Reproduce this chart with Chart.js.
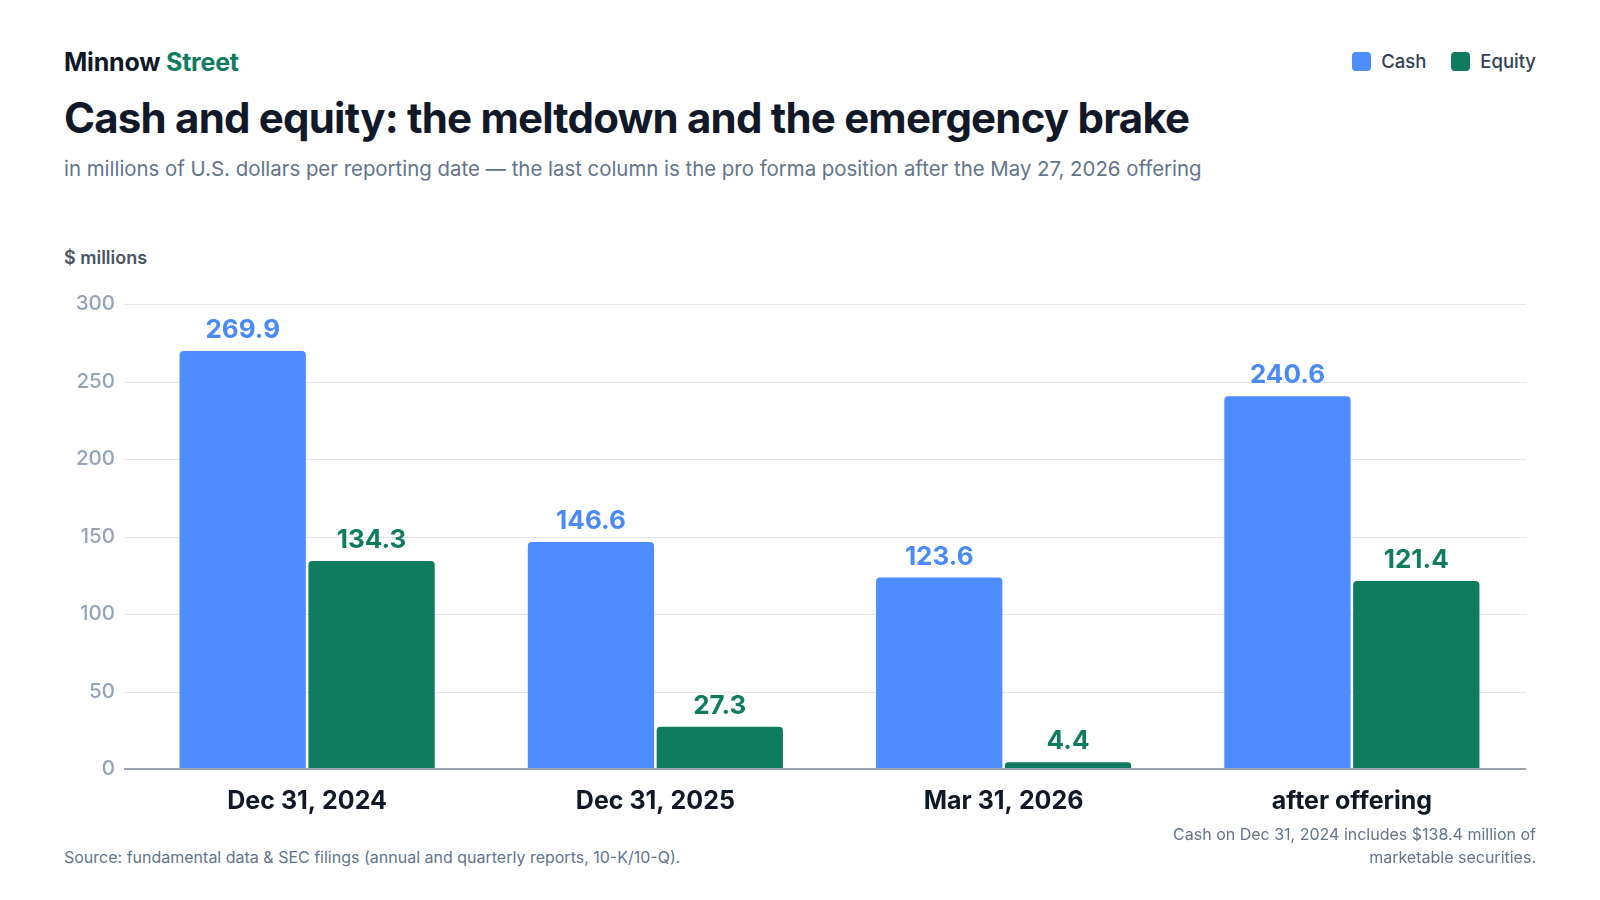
<!DOCTYPE html>
<html>
<head>
<meta charset="utf-8">
<script src="https://cdn.jsdelivr.net/npm/chart.js@4"></script>
<style>
  html, body { margin: 0; padding: 0; background: #fff; }
  body { width: 1600px; height: 900px; position: relative; overflow: hidden; font-family: Inter, "Noto Sans", sans-serif; }
  .brand { position: absolute; left: 64px; top: 47px; font-size: 25px; font-weight: 700; color: #111827; letter-spacing: -0.2px; }
  .brand span { color: #0f7b5f; }
  .title { position: absolute; left: 64px; top: 92px; font-size: 42px; font-weight: 700; color: #111827; letter-spacing: -0.8px; }
  .subtitle { position: absolute; left: 64px; top: 156px; font-size: 20.4px; color: #64748b; }
  .unit { position: absolute; left: 64px; top: 247px; font-size: 18px; font-weight: 600; color: #4b5563; }
  .legend { position: absolute; right: 64px; top: 50px; display: flex; gap: 25px; font-size: 18.5px; font-weight: 500; color: #334155; }
  .legend div { display: flex; align-items: center; gap: 10px; }
  .legend i { display: inline-block; width: 19px; height: 19px; border-radius: 4px; }
  .source { position: absolute; left: 64px; top: 847px; font-size: 16px; color: #64748b; }
  .note { position: absolute; right: 64px; top: 823px; font-size: 16px; line-height: 23px; color: #64748b; text-align: right; }
  #wrap { position: absolute; left: 0; top: 274px; width: 1600px; height: 554px; }
</style>
</head>
<body>
<div class="brand">Minnow <span>Street</span></div>
<div class="legend" id="legend"></div>
<div class="title">Cash and equity: the meltdown and the emergency brake</div>
<div class="subtitle">in millions of U.S. dollars per reporting date — the last column is the pro forma position after the May 27, 2026 offering</div>
<div class="unit">$ millions</div>
<div id="wrap"><canvas id="chart"></canvas></div>
<div class="source">Source: fundamental data &amp; SEC filings (annual and quarterly reports, 10-K/10-Q).</div>
<div class="note">Cash on Dec 31, 2024 includes $138.4 million of<br>marketable securities.</div>
<script>
const categories = ['Dec 31, 2024', 'Dec 31, 2025', 'Mar 31, 2026', 'after offering'];
const cashValues = [269.9, 146.6, 123.6, 240.6];
const equityValues = [134.3, 27.3, 4.4, 121.4];
const yTicks = [0, 50, 100, 150, 200, 250, 300];

const CASH = '#4d8dff';
const EQUITY = '#0f7b5f';
const labelColors = ['#4a8af6', '#0f7b5f'];
const GRID_START = 124;

const legend = document.getElementById('legend');
[['Cash', CASH], ['Equity', EQUITY]].forEach(([name, color]) => {
  const item = document.createElement('div');
  item.innerHTML = '<i style="background:' + color + '"></i>' + name;
  legend.appendChild(item);
});

// grid lines start a bit left of the first category, like the original
const gridAndAxis = {
  id: 'gridAndAxis',
  beforeDatasetsDraw(chart) {
    const ctx = chart.ctx, y = chart.scales.y, right = chart.chartArea.right;
    ctx.save();
    ctx.strokeStyle = '#e5e7eb';
    ctx.lineWidth = 1;
    yTicks.forEach(v => {
      if (v === 0) return;
      const py = Math.round(y.getPixelForValue(v)) + 0.5;
      ctx.beginPath();
      ctx.moveTo(GRID_START, py);
      ctx.lineTo(right, py);
      ctx.stroke();
    });
    ctx.restore();
  },
  afterDatasetsDraw(chart) {
    const ctx = chart.ctx, y = chart.scales.y, right = chart.chartArea.right;
    const py = y.getPixelForValue(0);
    ctx.save();
    ctx.strokeStyle = '#9ca3af';
    ctx.lineWidth = 2;
    ctx.beginPath();
    ctx.moveTo(GRID_START, py);
    ctx.lineTo(right, py);
    ctx.stroke();

    ctx.font = '700 26px Inter, "Noto Sans", sans-serif';
    ctx.textAlign = 'center';
    ctx.textBaseline = 'alphabetic';
    chart.data.datasets.forEach((ds, i) => {
      ctx.fillStyle = labelColors[i];
      chart.getDatasetMeta(i).data.forEach((bar, j) => {
        ctx.fillText(ds.data[j].toFixed(1), bar.x, bar.y - 13);
      });
    });
    ctx.restore();
  }
};

new Chart(document.getElementById('chart'), {
  type: 'bar',
  data: {
    labels: categories,
    datasets: [
      { label: 'Cash', data: cashValues, backgroundColor: CASH },
      { label: 'Equity', data: equityValues, backgroundColor: EQUITY }
    ]
  },
  options: {
    responsive: true,
    maintainAspectRatio: false,
    animation: false,
    devicePixelRatio: 1,
    layout: { padding: { top: 18, right: 74, bottom: 7, left: 0 } },
    datasets: {
      bar: {
        categoryPercentage: 0.74,
        barPercentage: 0.98,
        borderRadius: { topLeft: 4, topRight: 4, bottomLeft: 0, bottomRight: 0 },
        borderSkipped: 'bottom'
      }
    },
    plugins: {
      legend: { display: false },
      tooltip: { enabled: false }
    },
    scales: {
      x: {
        grid: { display: false, drawTicks: false },
        border: { display: false },
        ticks: {
          padding: 17,
          color: '#111827',
          font: { family: 'Inter, "Noto Sans", sans-serif', size: 25, weight: '700' }
        },
        afterFit(axis) { axis.height = 52; }
      },
      y: {
        min: 0,
        max: 300,
        afterBuildTicks(axis) { axis.ticks = yTicks.map(v => ({ value: v })); },
        grid: { display: false, drawTicks: false },
        border: { display: false },
        ticks: {
          padding: 18,
          color: '#94a3b8',
          font: { family: 'Inter, "Noto Sans", sans-serif', size: 20.5, weight: '500' }
        },
        afterFit(axis) { axis.width = 133; }
      }
    }
  },
  plugins: [gridAndAxis]
});
</script>
</body>
</html>
